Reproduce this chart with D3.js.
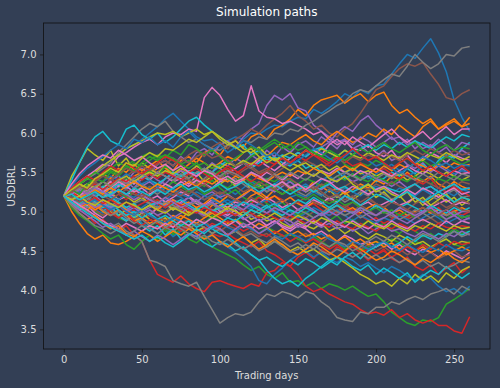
<!DOCTYPE html>
<html>
<head>
<meta charset="utf-8">
<script src="https://cdn.jsdelivr.net/npm/d3@7"></script>
<style>
  body { margin: 0; background: #333f55; }
  svg { display: block; font-family: "DejaVu Sans", sans-serif; }
</style>
</head>
<body>
<div id="chart"></div>
<script>
// Simulation paths, USDBRL, values every 5 trading days

const days = [0, 5, 10, 15, 20, 25, 30, 35, 40, 45, 50, 55, 60, 65, 70, 75, 80, 85, 90, 95,
  100, 105, 110, 115, 120, 125, 130, 135, 140, 145, 150, 155, 160, 165, 170, 175, 180, 185,
  190, 195, 200, 205, 210, 215, 220, 225, 230, 235, 240, 245, 250, 255, 260];

const xTicks = [0, 50, 100, 150, 200, 250];
const yTicks = [3.5, 4.0, 4.5, 5.0, 5.5, 6.0, 6.5, 7.0];

const sim00 = [5.20,5.28,5.35,5.42,5.50,5.58,5.65,5.72,5.80,5.85,5.92,
  6.00,6.08,6.18,6.25,6.15,6.05,5.95,5.90,5.92,5.85,
  5.90,5.95,5.92,6.00,5.98,6.05,6.10,6.08,6.15,6.20,
  6.18,6.30,6.25,6.32,6.40,6.50,6.45,6.55,6.50,6.60,
  6.62,6.75,6.88,7.00,6.95,7.08,7.20,7.02,6.78,6.42,6.20,6.02];
const sim01 = [5.20,5.15,5.22,5.18,5.30,5.25,5.35,5.40,5.32,5.45,5.50,
  5.48,5.55,5.60,5.52,5.65,5.70,5.62,5.75,5.80,5.72,
  5.85,5.90,5.82,5.95,6.00,5.92,6.05,6.10,6.18,6.30,
  6.22,6.35,6.42,6.45,6.48,6.38,6.45,6.50,6.40,6.48,
  6.52,6.35,6.25,6.30,6.20,6.12,6.18,6.05,6.10,6.15,6.08,6.20];
const sim02 = [5.20,5.12,5.05,5.10,5.00,4.95,5.02,4.92,4.88,4.95,4.85,
  4.80,4.88,4.75,4.70,4.78,4.65,4.60,4.68,4.55,4.50,
  4.45,4.40,4.32,4.25,4.30,4.20,4.15,4.22,4.10,4.12,
  4.05,4.10,4.02,4.08,4.05,4.00,4.05,3.98,3.92,3.95,
  3.85,3.72,3.65,3.58,3.55,3.62,3.60,3.65,3.82,3.88,3.95,4.02];
const sim03 = [5.20,5.10,5.02,4.95,4.85,4.90,4.80,4.75,4.82,4.70,4.62,
  4.38,4.20,4.15,4.10,4.18,4.08,4.02,3.98,4.10,4.12,
  4.08,4.05,4.02,4.08,4.05,4.22,4.25,4.35,4.30,4.42,
  4.48,4.40,4.52,4.45,4.55,4.50,4.42,4.48,4.38,4.45,
  4.52,4.40,4.35,4.42,4.30,4.25,4.32,4.20,4.28,4.35,4.22,4.30];
const sim04 = [5.20,5.25,5.18,5.30,5.35,5.28,5.40,5.45,5.38,5.50,5.55,
  5.48,5.60,5.65,5.58,5.70,5.62,5.75,5.80,5.72,5.85,
  5.90,5.82,5.95,6.05,6.12,6.35,6.48,6.42,6.50,6.32,
  6.28,6.10,6.02,5.95,5.88,5.92,5.80,5.85,5.75,5.70,
  5.78,5.65,5.70,5.60,5.55,5.62,5.50,5.58,5.52,5.45,5.55,5.48];
const sim05 = [5.20,5.28,5.22,5.32,5.38,5.30,5.42,5.35,5.45,5.52,5.48,
  5.55,5.50,5.60,5.68,5.62,5.72,5.78,5.70,5.82,5.88,
  5.80,5.92,5.98,6.05,6.00,6.10,6.18,6.25,6.35,6.22,
  6.15,6.05,6.10,6.00,5.95,6.05,6.12,6.25,6.40,6.55,
  6.60,6.72,6.82,6.88,6.85,6.90,6.75,6.62,6.45,6.42,6.50,6.55];
const sim06 = [5.20,5.30,5.38,5.45,5.52,5.60,5.58,5.70,5.75,5.82,5.88,
  5.92,5.85,5.95,6.00,5.98,6.05,6.02,6.45,6.58,6.48,
  6.30,6.15,6.22,6.60,6.28,6.20,6.18,6.12,6.15,6.10,
  6.05,5.98,6.02,5.92,5.85,5.90,5.80,5.78,5.85,5.75,
  5.70,5.78,5.65,5.72,5.60,5.68,5.75,5.70,5.62,5.72,5.68,5.65];
const sim07 = [5.20,5.28,5.35,5.42,5.48,5.55,5.62,5.75,5.85,5.95,6.05,
  6.12,6.08,6.15,6.02,5.95,5.88,5.92,5.85,5.80,5.78,
  5.85,5.82,5.90,5.88,5.95,5.92,6.00,5.98,6.05,6.02,
  6.10,6.15,6.22,6.28,6.35,6.40,6.50,6.55,6.52,6.60,
  6.68,6.75,6.72,6.85,7.00,6.90,6.82,6.88,7.00,6.98,7.08,7.10];
const sim08 = [5.20,5.45,5.62,5.80,5.72,5.65,5.78,5.58,5.68,5.52,5.62,
  5.55,5.48,5.58,5.45,5.52,5.42,5.50,5.38,5.45,5.35,
  5.42,5.32,5.40,5.28,5.35,5.25,5.32,5.38,5.28,5.35,
  5.25,5.30,5.20,5.28,5.18,5.25,5.15,5.22,5.28,5.18,
  5.25,5.15,5.20,5.10,5.18,5.08,5.15,5.22,5.12,5.18,5.08,5.15];
const sim09 = [5.20,5.40,5.62,5.82,5.95,6.02,5.90,5.85,6.05,6.10,5.98,
  5.92,6.00,5.88,5.95,6.05,6.15,6.20,6.10,6.02,5.95,
  5.88,5.80,5.85,5.72,5.78,5.65,5.70,5.62,5.58,5.65,
  5.55,5.60,5.50,5.45,5.52,5.42,5.48,5.40,5.45,5.38,
  5.42,5.50,5.45,5.55,5.48,5.60,5.52,5.65,5.72,5.68,5.80,5.88];
const sim10 = [5.20,5.15,5.08,5.12,5.02,4.98,5.05,4.95,4.90,4.98,4.85,
  4.80,4.72,4.78,4.68,4.75,4.82,4.70,4.65,4.72,4.60,
  4.55,4.48,4.40,4.30,4.12,4.08,4.20,4.28,4.38,4.45,
  4.50,4.42,4.48,4.40,4.35,4.42,4.38,4.30,4.35,4.28,
  4.22,4.30,4.25,4.18,4.12,4.20,4.15,4.05,3.98,4.02,3.95,4.05];
const sim11 = [5.20,5.00,4.85,4.72,4.65,4.70,4.60,4.58,4.62,4.68,4.75,
  4.82,4.78,4.88,4.95,4.90,5.00,5.05,4.98,5.08,5.12,
  5.05,5.15,5.10,5.20,5.25,5.18,5.28,5.22,5.30,5.35,
  5.28,5.38,5.32,5.25,5.30,5.22,5.28,5.35,5.30,5.40,
  5.35,5.45,5.40,5.50,5.42,5.38,5.45,5.35,5.30,5.38,5.32,5.28];
const sim12 = [5.20,5.05,4.95,4.88,4.80,4.72,4.65,4.70,4.58,4.52,4.62,
  4.70,4.65,4.78,4.72,4.85,4.80,4.90,4.85,4.95,4.88,
  4.82,4.90,4.85,4.78,4.72,4.80,4.75,4.68,4.72,4.65,
  4.60,4.68,4.62,4.55,4.60,4.52,4.58,4.50,4.55,4.62,
  4.58,4.65,4.60,4.55,4.62,4.58,4.52,4.60,4.65,4.58,4.55,4.62];
const sim13 = [5.20,5.12,5.18,5.08,5.15,5.05,5.00,5.08,4.98,5.02,4.92,
  4.95,4.88,4.92,4.85,4.78,4.82,4.75,4.80,4.72,4.68,
  4.72,4.65,4.60,4.55,4.62,4.50,4.45,4.38,4.30,4.20,
  4.05,3.98,4.02,3.95,3.90,3.85,3.82,3.75,3.70,3.72,
  3.68,3.75,3.65,3.70,3.62,3.58,3.62,3.55,3.55,3.48,3.45,3.66];
const sim14 = [5.20,5.12,5.18,5.25,5.20,5.30,5.22,5.35,5.28,5.40,5.32,
  5.38,5.30,5.42,5.48,5.40,5.52,5.45,5.55,5.50,5.62,
  5.58,5.68,5.62,5.72,5.65,5.78,5.70,5.82,5.75,5.85,
  5.90,5.82,5.95,5.88,6.00,6.08,6.02,6.15,6.22,6.10,
  6.02,5.92,5.95,5.85,5.90,5.80,5.85,5.75,5.82,5.70,5.78,5.72];
const sim15 = [5.20,5.15,5.08,5.12,5.05,5.10,5.02,5.08,5.00,4.95,5.02,
  4.98,5.05,5.00,5.08,5.02,4.95,5.00,4.92,4.98,5.05,
  5.00,5.08,5.02,5.10,5.05,4.98,5.02,4.95,4.90,4.98,
  4.92,5.00,4.95,5.02,4.98,5.05,5.00,5.08,5.02,4.95,
  5.00,4.92,4.98,4.90,4.95,4.88,4.92,4.85,4.90,4.95,4.88,4.92];
const sim16 = [5.20,5.10,5.02,5.08,4.98,4.92,5.00,4.95,4.88,4.95,5.02,
  4.95,5.05,5.10,5.02,5.12,5.18,5.10,5.05,5.12,5.00,
  4.95,5.02,4.92,4.85,4.90,4.82,4.88,4.80,4.75,4.82,
  4.78,4.70,4.75,4.68,4.62,4.70,4.65,4.58,4.62,4.55,
  4.60,4.52,4.58,4.50,4.45,4.52,4.48,4.42,4.50,4.45,4.40,4.48];
const sim17 = [5.20,5.12,5.05,5.00,4.92,4.88,4.80,4.85,4.75,4.70,4.62,
  4.38,4.35,4.30,4.12,4.08,4.05,4.10,3.92,3.75,3.58,
  3.65,3.70,3.68,3.72,3.85,3.95,3.92,3.98,3.95,3.90,
  3.98,3.95,3.85,3.78,3.65,3.62,3.60,3.72,3.70,3.78,
  3.78,3.85,3.82,3.88,3.92,3.88,3.95,3.98,4.02,3.95,4.05,4.00];
const sim18 = [5.20,5.15,5.22,5.10,5.05,5.12,5.00,4.95,5.02,4.92,4.98,
  4.90,4.85,4.92,4.80,4.88,4.82,4.75,4.80,4.72,4.78,
  4.70,4.75,4.68,4.60,4.65,4.55,4.62,4.58,4.50,4.55,
  4.48,4.52,4.45,4.38,4.42,4.35,4.28,4.20,4.15,4.08,
  4.12,4.05,4.15,4.08,4.20,4.12,4.18,4.10,4.22,4.15,4.25,4.30];
const sim19 = [5.20,5.10,5.18,5.05,5.12,5.00,5.08,4.95,4.88,4.95,4.82,
  4.75,4.82,4.70,4.78,4.65,4.72,4.68,4.60,4.55,4.62,
  4.58,4.50,4.55,4.45,4.38,4.42,4.35,4.30,4.38,4.32,
  4.40,4.35,4.28,4.35,4.42,4.38,4.30,4.25,4.32,4.20,
  4.28,4.22,4.15,4.22,4.10,4.18,4.25,4.20,4.30,4.22,4.15,4.22];
const sim20 = [5.20,5.25,5.18,5.10,5.15,5.08,5.02,5.10,5.05,4.98,5.05,
  5.12,5.08,5.15,5.22,5.18,5.10,5.15,5.05,5.12,5.20,
  5.28,5.22,5.30,5.38,5.32,5.25,5.35,5.42,5.38,5.30,
  5.35,5.28,5.40,5.45,5.38,5.48,5.55,5.50,5.42,5.48,
  5.55,5.60,5.52,5.45,5.50,5.58,5.52,5.62,5.55,5.48,5.52,5.50];
const sim21 = [5.20,5.28,5.35,5.30,5.40,5.48,5.42,5.55,5.50,5.60,5.52,
  5.58,5.65,5.55,5.48,5.52,5.60,5.68,5.62,5.55,5.62,
  5.70,5.65,5.75,5.82,5.78,5.70,5.80,5.88,5.85,5.92,
  5.98,5.90,5.85,5.95,6.02,5.95,5.88,5.92,6.00,5.95,
  6.05,5.98,6.10,6.02,5.95,6.08,6.15,6.05,6.12,6.18,6.08,6.12];
const sim22 = [5.20,5.15,5.22,5.28,5.20,5.32,5.38,5.30,5.42,5.35,5.45,
  5.52,5.45,5.58,5.50,5.42,5.48,5.38,5.32,5.40,5.30,
  5.22,5.28,5.18,5.12,5.20,5.10,5.05,5.12,5.02,4.95,
  5.00,4.92,4.98,4.88,4.95,4.85,4.90,4.82,4.88,4.80,
  4.85,4.78,4.72,4.80,4.75,4.68,4.72,4.65,4.70,4.78,4.72,4.75];
const sim23 = [5.20,5.12,5.05,5.10,5.18,5.08,5.15,5.22,5.15,5.25,5.18,
  5.10,5.15,5.05,5.12,5.02,4.98,5.05,5.10,5.02,4.95,
  5.00,5.08,5.02,5.10,5.18,5.12,5.20,5.15,5.08,5.12,
  5.05,5.10,5.02,4.95,5.00,5.08,5.02,4.95,4.88,4.92,
  4.85,4.90,4.98,4.92,5.00,5.05,4.98,5.05,4.95,5.02,4.95,5.00];
const sim24 = [5.20,5.30,5.25,5.35,5.28,5.20,5.25,5.32,5.38,5.30,5.42,
  5.48,5.40,5.35,5.45,5.52,5.48,5.58,5.52,5.62,5.55,
  5.48,5.55,5.62,5.58,5.68,5.72,5.65,5.58,5.62,5.70,
  5.78,5.72,5.82,5.88,5.80,5.92,5.85,5.95,5.90,5.82,
  5.88,5.95,5.85,5.92,5.80,5.88,5.82,5.92,5.85,5.78,5.88,5.85];
const sim25 = [5.20,5.12,5.05,5.12,5.02,4.95,5.02,4.92,4.98,4.90,4.95,
  5.02,4.95,4.88,4.92,4.85,4.90,4.82,4.88,4.80,4.75,
  4.82,4.78,4.70,4.75,4.68,4.72,4.65,4.70,4.62,4.68,
  4.72,4.65,4.60,4.68,4.62,4.55,4.60,4.52,4.58,4.50,
  4.55,4.48,4.52,4.45,4.50,4.42,4.48,4.40,4.45,4.50,4.42,4.45];
const sim26 = [5.20,5.25,5.32,5.28,5.22,5.30,5.38,5.32,5.40,5.35,5.45,
  5.40,5.50,5.45,5.38,5.42,5.35,5.45,5.52,5.48,5.42,
  5.50,5.55,5.62,5.55,5.65,5.58,5.52,5.60,5.68,5.75,
  5.70,5.78,5.72,5.85,5.92,5.85,5.95,5.88,5.82,5.90,
  5.98,6.05,5.95,5.88,5.95,6.02,5.92,6.00,6.08,5.98,6.05,6.05];
const sim27 = [5.20,5.15,5.08,5.15,5.22,5.28,5.20,5.15,5.22,5.30,5.35,
  5.28,5.22,5.30,5.38,5.45,5.40,5.35,5.42,5.50,5.45,
  5.38,5.42,5.35,5.28,5.32,5.25,5.30,5.38,5.32,5.25,
  5.20,5.28,5.22,5.15,5.20,5.12,5.18,5.25,5.20,5.28,
  5.22,5.15,5.20,5.25,5.18,5.12,5.20,5.15,5.22,5.28,5.18,5.20];
const sim28 = [5.20,5.25,5.30,5.22,5.28,5.18,5.25,5.15,5.20,5.12,5.18,
  5.10,5.05,5.12,5.02,5.08,4.98,5.05,4.95,5.00,5.08,
  5.02,4.95,5.00,4.90,4.95,4.88,4.92,4.85,4.80,4.88,
  4.82,4.78,4.85,4.75,4.80,4.72,4.78,4.70,4.65,4.72,
  4.68,4.62,4.70,4.65,4.58,4.62,4.55,4.60,4.65,4.58,4.62,4.60];
const sim29 = [5.20,5.15,5.22,5.18,5.25,5.32,5.28,5.35,5.30,5.38,5.45,
  5.40,5.35,5.42,5.50,5.45,5.52,5.48,5.55,5.50,5.58,
  5.65,5.58,5.62,5.55,5.62,5.70,5.65,5.72,5.68,5.75,
  5.70,5.78,5.82,5.75,5.70,5.78,5.72,5.80,5.85,5.78,
  5.85,5.80,5.88,5.82,5.90,5.85,5.80,5.88,5.95,5.90,5.98,5.95];
const sim30 = [5.20,5.22,5.28,5.35,5.30,5.38,5.45,5.40,5.48,5.42,5.35,
  5.40,5.32,5.25,5.30,5.22,5.28,5.20,5.15,5.22,5.18,
  5.10,5.15,5.08,5.02,5.10,5.05,4.98,5.05,5.00,4.92,
  4.98,5.05,5.00,4.95,5.02,4.95,4.88,4.95,4.90,4.85,
  4.92,4.88,4.95,4.90,4.85,4.92,4.98,4.92,4.85,4.90,4.95,4.90];
const sim31 = [5.20,5.15,5.08,5.02,5.08,5.00,4.95,5.02,4.95,4.88,4.92,
  4.85,4.90,4.82,4.88,4.95,4.90,4.85,4.92,4.98,4.92,
  4.85,4.90,4.82,4.78,4.85,4.80,4.72,4.78,4.70,4.75,
  4.68,4.72,4.65,4.70,4.62,4.68,4.60,4.65,4.58,4.62,
  4.55,4.60,4.52,4.58,4.50,4.55,4.48,4.52,4.45,4.50,4.55,4.50];
const sim32 = [5.20,5.28,5.35,5.42,5.38,5.45,5.52,5.48,5.58,5.52,5.62,
  5.70,5.65,5.72,5.68,5.60,5.65,5.58,5.62,5.55,5.60,
  5.52,5.58,5.62,5.70,5.75,5.82,5.88,5.80,5.85,5.78,
  5.82,5.75,5.70,5.65,5.72,5.60,5.55,5.62,5.58,5.65,
  5.60,5.55,5.62,5.68,5.60,5.65,5.58,5.62,5.70,5.65,5.60,5.65];
const sim33 = [5.20,5.12,5.18,5.10,5.02,5.08,4.98,4.92,4.98,4.88,4.82,
  4.90,4.85,4.78,4.82,4.75,4.80,4.72,4.78,4.85,4.80,
  4.88,4.82,4.75,4.80,4.72,4.68,4.75,4.70,4.62,4.68,
  4.60,4.65,4.58,4.52,4.58,4.50,4.55,4.48,4.52,4.45,
  4.50,4.42,4.48,4.55,4.50,4.58,4.52,4.60,4.55,4.62,4.58,4.60];
const sim34 = [5.20,5.12,5.18,5.25,5.20,5.12,5.05,5.10,5.02,5.08,5.00,
  5.05,5.12,5.08,5.15,5.10,5.18,5.12,5.20,5.25,5.18,
  5.22,5.15,5.20,5.28,5.22,5.30,5.25,5.32,5.38,5.30,
  5.25,5.32,5.28,5.35,5.40,5.45,5.38,5.42,5.48,5.42,
  5.38,5.32,5.38,5.30,5.35,5.28,5.32,5.25,5.30,5.35,5.28,5.30];
const sim35 = [5.20,5.25,5.18,5.12,5.18,5.25,5.20,5.28,5.22,5.30,5.25,
  5.32,5.28,5.35,5.30,5.38,5.42,5.35,5.40,5.48,5.42,
  5.50,5.45,5.52,5.58,5.50,5.55,5.48,5.55,5.62,5.58,
  5.65,5.60,5.55,5.62,5.68,5.62,5.70,5.65,5.72,5.68,
  5.75,5.70,5.65,5.72,5.78,5.72,5.80,5.75,5.70,5.78,5.72,5.75];
const sim36 = [5.20,5.28,5.22,5.30,5.25,5.18,5.22,5.15,5.20,5.28,5.22,
  5.15,5.20,5.12,5.18,5.25,5.20,5.12,5.08,5.15,5.10,
  5.05,5.12,5.08,5.15,5.10,5.18,5.12,5.05,5.10,5.02,
  5.08,5.15,5.10,5.18,5.12,5.20,5.15,5.08,5.12,5.05,
  5.10,5.15,5.08,5.12,5.18,5.12,5.05,5.10,5.15,5.08,5.12,5.10];
const sim37 = [5.20,5.15,5.10,5.05,5.12,5.02,4.95,5.00,4.92,4.85,4.90,
  4.82,4.88,4.80,4.75,4.82,4.78,4.85,4.80,4.72,4.78,
  4.70,4.75,4.68,4.72,4.65,4.60,4.68,4.62,4.55,4.60,
  4.52,4.58,4.50,4.45,4.52,4.48,4.42,4.48,4.40,4.45,
  4.38,4.42,4.35,4.40,4.32,4.38,4.30,4.35,4.28,4.32,4.38,4.35];
const sim38 = [5.20,5.28,5.35,5.42,5.50,5.58,5.65,5.72,5.80,5.85,5.90,
  5.95,6.00,5.98,6.02,5.95,6.00,6.05,5.98,6.02,5.92,
  5.85,5.90,5.80,5.75,5.82,5.72,5.65,5.70,5.62,5.58,
  5.62,5.55,5.60,5.52,5.58,5.50,5.55,5.48,5.52,5.45,
  5.50,5.42,5.48,5.40,5.45,5.52,5.48,5.42,5.50,5.45,5.40,5.45];
const sim39 = [5.20,5.15,5.10,5.18,5.12,5.05,5.10,5.02,4.95,5.00,4.92,
  4.98,4.90,4.95,4.88,4.82,4.88,4.80,4.85,4.78,4.72,
  4.68,4.60,4.52,4.45,4.38,4.25,4.15,4.08,4.12,4.05,
  4.15,4.22,4.30,4.38,4.32,4.42,4.48,4.40,4.50,4.55,
  4.62,4.55,4.60,4.68,4.62,4.70,4.65,4.72,4.68,4.75,4.70,4.75];
const sim40 = [5.20,5.18,5.25,5.30,5.22,5.28,5.20,5.15,5.22,5.18,5.25,
  5.30,5.25,5.32,5.28,5.22,5.18,5.25,5.20,5.15,5.10,
  5.15,5.08,5.12,5.05,5.10,5.15,5.08,5.12,5.18,5.22,
  5.18,5.25,5.20,5.28,5.22,5.30,5.25,5.20,5.28,5.32,
  5.28,5.22,5.30,5.25,5.20,5.28,5.22,5.30,5.25,5.20,5.28,5.25];
const sim41 = [5.20,5.12,5.05,5.10,5.02,5.08,5.15,5.10,5.02,4.95,5.02,
  5.08,5.02,5.10,5.15,5.08,5.12,5.05,5.10,5.18,5.12,
  5.20,5.15,5.22,5.28,5.22,5.15,5.20,5.12,5.18,5.10,
  5.05,5.12,5.08,5.02,5.08,5.00,5.05,4.98,5.05,5.10,
  5.05,4.98,5.02,4.95,5.00,5.05,4.98,5.02,4.95,5.00,5.05,5.00];
const sim42 = [5.20,5.22,5.15,5.20,5.28,5.22,5.30,5.25,5.18,5.25,5.32,
  5.28,5.35,5.30,5.38,5.32,5.25,5.30,5.22,5.28,5.35,
  5.30,5.38,5.45,5.40,5.35,5.42,5.38,5.45,5.40,5.35,
  5.42,5.38,5.32,5.38,5.45,5.40,5.48,5.42,5.38,5.45,
  5.40,5.35,5.42,5.38,5.45,5.40,5.35,5.42,5.38,5.45,5.40,5.40];
const sim43 = [5.20,5.28,5.22,5.30,5.35,5.28,5.35,5.42,5.38,5.45,5.40,
  5.48,5.42,5.50,5.45,5.40,5.48,5.42,5.35,5.42,5.50,
  5.55,5.48,5.55,5.62,5.58,5.65,5.60,5.68,5.62,5.70,
  5.65,5.72,5.68,5.62,5.70,5.65,5.58,5.62,5.55,5.50,
  5.55,5.48,5.42,5.48,5.40,5.35,5.42,5.30,5.25,5.32,5.25,5.20];
const sim44 = [5.20,5.15,5.08,5.12,5.05,5.10,5.02,5.08,5.00,5.05,4.98,
  5.02,4.95,5.00,4.92,4.98,5.05,5.00,4.95,5.02,4.98,
  4.92,4.98,4.90,4.95,4.88,4.92,4.85,4.90,4.82,4.88,
  4.92,4.85,4.80,4.85,4.78,4.82,4.75,4.80,4.72,4.78,
  4.82,4.75,4.78,4.72,4.68,4.75,4.70,4.65,4.72,4.68,4.75,4.70];
const sim45 = [5.20,5.22,5.28,5.22,5.18,5.25,5.30,5.25,5.20,5.15,5.22,
  5.18,5.12,5.18,5.25,5.20,5.28,5.22,5.15,5.20,5.25,
  5.20,5.15,5.10,5.18,5.12,5.05,5.10,5.15,5.08,5.12,
  5.18,5.12,5.08,5.15,5.10,5.05,5.12,5.08,5.15,5.10,
  5.05,5.12,5.08,5.02,5.10,5.15,5.08,5.12,5.05,5.10,5.15,5.10];
const sim46 = [5.20,5.25,5.20,5.28,5.32,5.25,5.30,5.38,5.32,5.25,5.30,
  5.22,5.28,5.35,5.30,5.38,5.32,5.40,5.35,5.30,5.38,
  5.42,5.35,5.40,5.48,5.42,5.50,5.45,5.40,5.48,5.42,
  5.50,5.45,5.52,5.48,5.55,5.50,5.45,5.52,5.48,5.55,
  5.50,5.45,5.52,5.58,5.52,5.48,5.55,5.50,5.45,5.52,5.48,5.50];
const sim47 = [5.20,5.18,5.12,5.18,5.10,5.15,5.08,5.12,5.05,5.10,5.15,
  5.10,5.05,5.12,5.08,5.02,5.08,5.12,5.05,5.10,5.02,
  4.98,5.05,5.00,4.95,5.02,4.98,5.05,5.00,4.95,5.02,
  4.98,4.92,4.98,5.05,5.00,4.95,5.00,4.92,4.98,4.95,
  5.00,4.95,4.90,4.95,5.02,4.98,4.92,4.98,4.95,5.00,4.92,4.95];
const sim48 = [5.20,5.25,5.30,5.35,5.30,5.38,5.32,5.40,5.45,5.38,5.45,
  5.50,5.45,5.52,5.48,5.55,5.50,5.58,5.52,5.60,5.55,
  5.62,5.58,5.65,5.60,5.68,5.72,5.65,5.70,5.75,5.70,
  5.78,5.72,5.80,5.75,5.70,5.78,5.72,5.68,5.75,5.70,
  5.65,5.72,5.68,5.75,5.70,5.65,5.72,5.68,5.75,5.70,5.65,5.70];
const sim49 = [5.20,5.15,5.20,5.12,5.18,5.25,5.18,5.12,5.05,5.10,5.02,
  5.08,5.12,5.05,5.10,5.15,5.08,5.02,5.08,5.00,5.05,
  5.10,5.05,5.12,5.08,5.02,5.08,5.00,4.95,5.02,4.98,
  5.05,5.00,4.95,5.02,5.08,5.02,4.98,5.05,5.00,5.08,
  5.02,4.98,5.05,5.10,5.05,5.00,5.08,5.02,4.98,5.05,5.00,5.05];
const sim50 = [5.20,5.12,5.18,5.10,5.15,5.08,5.02,5.08,5.00,4.95,5.02,
  4.95,4.90,4.85,4.92,4.88,4.82,4.90,4.85,4.78,4.85,
  4.80,4.75,4.82,4.78,4.72,4.78,4.70,4.65,4.72,4.68,
  4.62,4.68,4.72,4.65,4.60,4.55,4.62,4.58,4.52,4.58,
  4.62,4.55,4.50,4.58,4.52,4.48,4.55,4.50,4.58,4.52,4.50,4.55];
const sim51 = [5.20,5.25,5.18,5.22,5.28,5.22,5.30,5.25,5.32,5.38,5.32,
  5.28,5.35,5.30,5.25,5.32,5.38,5.32,5.40,5.35,5.42,
  5.38,5.45,5.40,5.48,5.42,5.38,5.45,5.50,5.45,5.52,
  5.48,5.55,5.50,5.45,5.52,5.58,5.52,5.60,5.55,5.50,
  5.58,5.52,5.60,5.55,5.62,5.58,5.52,5.60,5.55,5.62,5.58,5.60];
const sim52 = [5.20,5.28,5.35,5.42,5.50,5.45,5.55,5.62,5.58,5.65,5.70,
  5.75,5.68,5.72,5.65,5.60,5.55,5.62,5.50,5.45,5.52,
  5.42,5.38,5.45,5.35,5.30,5.35,5.28,5.22,5.28,5.20,
  5.15,5.22,5.15,5.10,5.15,5.08,5.12,5.05,5.00,5.05,
  4.98,5.02,4.95,5.00,4.92,4.98,5.02,4.95,4.90,4.98,4.92,4.95];
const sim53 = [5.20,5.25,5.18,5.12,5.18,5.10,5.15,5.08,5.12,5.05,5.10,
  5.15,5.10,5.05,5.12,5.08,5.02,4.98,5.05,5.00,4.95,
  5.00,4.95,5.02,4.98,4.92,4.98,4.92,4.88,4.95,4.90,
  4.85,4.90,4.85,4.80,4.88,4.82,4.78,4.85,4.80,4.75,
  4.82,4.78,4.85,4.80,4.75,4.82,4.78,4.85,4.80,4.78,4.82,4.80];
const sim54 = [5.20,5.22,5.28,5.22,5.30,5.25,5.20,5.28,5.22,5.15,5.20,
  5.15,5.10,5.18,5.12,5.05,5.10,5.15,5.08,5.12,5.05,
  5.00,5.08,5.02,5.10,5.05,4.98,5.05,5.00,4.95,5.02,
  5.08,5.02,4.95,5.00,4.95,5.02,4.98,5.05,5.00,4.95,
  5.02,4.98,5.05,5.00,4.95,5.00,5.05,4.98,5.02,4.95,5.00,5.00];
const sim55 = [5.20,5.18,5.12,5.18,5.25,5.20,5.15,5.22,5.28,5.22,5.18,
  5.25,5.30,5.25,5.20,5.28,5.22,5.30,5.35,5.28,5.22,
  5.28,5.32,5.25,5.30,5.38,5.32,5.28,5.35,5.30,5.25,
  5.32,5.28,5.35,5.30,5.25,5.32,5.38,5.32,5.28,5.35,
  5.30,5.38,5.32,5.28,5.35,5.40,5.35,5.30,5.38,5.32,5.38,5.35];
const sim56 = [5.20,5.15,5.08,5.02,4.95,4.88,4.82,4.78,4.85,4.80,4.75,
  4.82,4.78,4.85,4.80,4.88,4.82,4.90,4.85,4.92,4.88,
  4.82,4.88,4.80,4.85,4.78,4.82,4.88,4.82,4.78,4.85,
  4.80,4.88,4.82,4.90,4.85,4.80,4.88,4.82,4.78,4.85,
  4.80,4.88,4.82,4.78,4.85,4.90,4.85,4.80,4.88,4.82,4.88,4.85];
const sim57 = [5.20,5.25,5.30,5.25,5.32,5.38,5.32,5.40,5.35,5.42,5.48,
  5.42,5.50,5.45,5.40,5.48,5.42,5.50,5.55,5.50,5.45,
  5.52,5.48,5.42,5.50,5.45,5.40,5.48,5.42,5.50,5.45,
  5.40,5.48,5.42,5.38,5.45,5.50,5.45,5.40,5.48,5.42,
  5.48,5.42,5.50,5.45,5.40,5.48,5.42,5.50,5.45,5.40,5.48,5.45];
const sim58 = [5.20,5.15,5.20,5.12,5.08,5.15,5.10,5.05,5.12,5.08,5.02,
  5.08,5.02,4.98,5.05,5.00,4.95,5.02,4.98,4.92,4.98,
  5.05,5.00,4.95,5.02,4.98,4.92,4.98,4.92,4.88,4.95,
  4.90,4.85,4.92,4.88,4.82,4.88,4.85,4.80,4.88,4.82,
  4.78,4.85,4.80,4.75,4.82,4.78,4.85,4.80,4.75,4.82,4.78,4.80];
const sim59 = [5.20,5.22,5.15,5.20,5.25,5.18,5.22,5.28,5.22,5.30,5.25,
  5.20,5.28,5.22,5.30,5.35,5.28,5.32,5.25,5.30,5.35,
  5.28,5.32,5.38,5.32,5.25,5.30,5.35,5.28,5.22,5.28,
  5.32,5.25,5.30,5.35,5.28,5.32,5.25,5.30,5.35,5.28,
  5.32,5.28,5.25,5.30,5.35,5.28,5.32,5.25,5.30,5.35,5.28,5.30];
const sim60 = [5.20,5.32,5.45,5.55,5.62,5.70,5.78,5.85,5.80,5.92,5.88,
  5.95,5.85,5.90,5.82,5.95,6.02,5.92,5.85,5.78,5.85,
  5.75,5.82,5.90,5.85,5.78,5.70,5.75,5.68,5.60,5.65,
  5.72,5.80,5.75,5.68,5.62,5.70,5.78,5.72,5.65,5.58,
  5.62,5.55,5.48,5.55,5.62,5.70,5.65,5.58,5.62,5.55,5.60,5.58];
const sim61 = [5.20,5.08,4.98,4.90,4.95,4.85,4.78,4.82,4.72,4.68,4.75,
  4.70,4.62,4.68,4.75,4.70,4.78,4.72,4.65,4.70,4.62,
  4.55,4.62,4.68,4.60,4.52,4.58,4.65,4.58,4.50,4.45,
  4.52,4.60,4.55,4.48,4.42,4.50,4.58,4.52,4.45,4.38,
  4.42,4.50,4.45,4.38,4.32,4.40,4.35,4.42,4.48,4.40,4.35,4.42];
const sim62 = [5.20,5.28,5.22,5.35,5.42,5.38,5.50,5.45,5.55,5.62,5.58,
  5.65,5.72,5.68,5.78,5.72,5.85,5.80,5.72,5.78,5.70,
  5.62,5.68,5.75,5.82,5.78,5.85,5.92,5.85,5.78,5.88,
  5.82,5.75,5.70,5.78,5.72,5.65,5.72,5.80,5.75,5.82,
  5.88,5.80,5.75,5.82,5.88,5.78,5.72,5.80,5.85,5.78,5.82,5.80];
const sim63 = [5.20,5.30,5.38,5.45,5.40,5.50,5.58,5.52,5.62,5.55,5.48,
  5.55,5.62,5.70,5.65,5.58,5.50,5.55,5.48,5.42,5.50,
  5.58,5.52,5.45,5.38,5.45,5.52,5.60,5.68,5.62,5.70,
  5.78,5.72,5.65,5.58,5.65,5.72,5.80,5.72,5.65,5.70,
  5.62,5.55,5.62,5.68,5.60,5.52,5.58,5.50,5.45,5.52,5.58,5.50];
const sim64 = [5.20,5.10,5.02,4.95,4.88,4.80,4.85,4.78,4.70,4.75,4.68,
  4.62,4.70,4.65,4.58,4.65,4.72,4.68,4.75,4.82,4.78,
  4.70,4.78,4.85,4.80,4.72,4.78,4.85,4.92,4.88,4.80,
  4.85,4.92,4.98,4.90,4.82,4.88,4.95,5.02,4.95,4.88,
  4.92,4.98,4.90,4.85,4.92,4.98,5.05,4.98,4.90,4.95,4.88,4.92];
const sim65 = [5.20,5.25,5.32,5.28,5.38,5.45,5.40,5.48,5.55,5.50,5.58,
  5.52,5.60,5.65,5.58,5.68,5.62,5.70,5.75,5.68,5.72,
  5.65,5.58,5.62,5.55,5.48,5.52,5.45,5.38,5.42,5.35,
  5.28,5.32,5.25,5.18,5.22,5.15,5.20,5.12,5.18,5.10,
  5.05,5.12,5.08,5.02,4.98,5.05,5.00,4.95,5.02,5.08,5.02,5.00];
const sim66 = [5.20,5.35,5.48,5.58,5.65,5.72,5.68,5.78,5.72,5.65,5.70,
  5.62,5.55,5.60,5.52,5.58,5.50,5.45,5.52,5.48,5.40,
  5.45,5.38,5.42,5.50,5.45,5.38,5.32,5.38,5.30,5.35,
  5.28,5.35,5.42,5.38,5.30,5.25,5.32,5.28,5.22,5.28,
  5.32,5.25,5.20,5.28,5.22,5.30,5.25,5.18,5.25,5.30,5.22,5.25];
const sim67 = [5.20,5.08,4.98,4.90,4.82,4.78,4.72,4.78,4.70,4.75,4.82,
  4.78,4.72,4.80,4.85,4.78,4.72,4.65,4.70,4.62,4.58,
  4.65,4.58,4.52,4.58,4.50,4.55,4.62,4.55,4.48,4.52,
  4.58,4.52,4.60,4.55,4.62,4.58,4.50,4.55,4.62,4.68,
  4.62,4.70,4.65,4.58,4.65,4.72,4.68,4.62,4.68,4.75,4.68,4.72];
const sim68 = [5.20,5.28,5.35,5.30,5.42,5.48,5.55,5.50,5.62,5.58,5.68,
  5.75,5.70,5.80,5.78,5.85,5.92,5.88,5.95,6.02,5.95,
  5.88,5.82,5.75,5.80,5.70,5.62,5.68,5.58,5.52,5.58,
  5.50,5.45,5.52,5.42,5.38,5.45,5.35,5.28,5.35,5.25,
  5.30,5.22,5.18,5.25,5.12,5.18,5.08,5.15,5.22,5.12,5.18,5.15];
const sim69 = [5.20,5.12,5.05,4.98,4.92,4.85,4.80,4.75,4.70,4.65,4.70,
  4.62,4.68,4.60,4.55,4.62,4.70,4.78,4.72,4.80,4.85,
  4.92,4.88,4.95,5.02,4.98,5.05,5.10,5.02,5.08,5.15,
  5.10,5.18,5.12,5.05,5.12,5.20,5.15,5.08,5.15,5.22,
  5.18,5.12,5.20,5.25,5.18,5.12,5.18,5.25,5.20,5.12,5.18,5.15];

const paths = [sim00, sim01, sim02, sim03, sim04, sim05, sim06, sim07, sim08, sim09,
  sim10, sim11, sim12, sim13, sim14, sim15, sim16, sim17, sim18, sim19,
  sim20, sim21, sim22, sim23, sim24, sim25, sim26, sim27, sim28, sim29,
  sim30, sim31, sim32, sim33, sim34, sim35, sim36, sim37, sim38, sim39,
  sim40, sim41, sim42, sim43, sim44, sim45, sim46, sim47, sim48, sim49,
  sim50, sim51, sim52, sim53, sim54, sim55, sim56, sim57, sim58, sim59,
  sim60, sim61, sim62, sim63, sim64, sim65, sim66, sim67, sim68, sim69];

const width = 500;
const height = 388;
const margin = { left: 43.5, right: 10, top: 23, bottom: 39 };
const bg = "#333f55";
const textColor = "#dddddd";

const svg = d3.select("#chart")
  .append("svg")
  .attr("width", width)
  .attr("height", height);

svg.append("rect")
  .attr("width", width)
  .attr("height", height)
  .attr("fill", bg);

const x = d3.scaleLinear()
  .domain([-13, 273])
  .range([margin.left, width - margin.right]);

const y = d3.scaleLinear()
  .domain([3.25, 7.40])
  .range([height - margin.bottom, margin.top]);

// lines, matplotlib tab10 cycle
const color = d3.scaleOrdinal(d3.schemeCategory10);

const line = d3.line()
  .x((d, i) => x(days[i]))
  .y(d => y(d));

svg.append("defs").append("clipPath")
  .attr("id", "plot-clip")
  .append("rect")
  .attr("x", margin.left)
  .attr("y", margin.top)
  .attr("width", width - margin.left - margin.right)
  .attr("height", height - margin.top - margin.bottom);

svg.append("g")
  .attr("clip-path", "url(#plot-clip)")
  .selectAll("path")
  .data(paths)
  .enter()
  .append("path")
  .attr("d", line)
  .attr("fill", "none")
  .attr("stroke", (d, i) => color(i % 10))
  .attr("stroke-width", 1.5)
  .attr("stroke-linejoin", "round");

// axes
const xAxis = svg.append("g")
  .attr("transform", `translate(0,${height - margin.bottom})`)
  .call(d3.axisBottom(x).tickValues(xTicks).tickSize(3.5).tickPadding(3.5));

const yAxis = svg.append("g")
  .attr("transform", `translate(${margin.left},0)`)
  .call(d3.axisLeft(y).tickValues(yTicks).tickFormat(d3.format(".1f")).tickSize(3.5).tickPadding(3.5));

[xAxis, yAxis].forEach(g => {
  g.select(".domain").remove();
  g.selectAll(".tick line").attr("stroke", "#1a1a1a").attr("stroke-width", 0.8);
  g.selectAll(".tick text")
    .attr("fill", textColor)
    .attr("font-size", "10px")
    .attr("font-family", "DejaVu Sans, sans-serif");
});

// frame
svg.append("rect")
  .attr("x", margin.left)
  .attr("y", margin.top)
  .attr("width", width - margin.left - margin.right)
  .attr("height", height - margin.top - margin.bottom)
  .attr("fill", "none")
  .attr("stroke", "#111111")
  .attr("stroke-width", 0.8);

// texts
svg.append("text")
  .attr("x", (margin.left + width - margin.right) / 2)
  .attr("y", 16)
  .attr("text-anchor", "middle")
  .attr("fill", "#ffffff")
  .attr("font-size", "12px")
  .text("Simulation paths");

svg.append("text")
  .attr("x", (margin.left + width - margin.right) / 2)
  .attr("y", 379)
  .attr("text-anchor", "middle")
  .attr("fill", textColor)
  .attr("font-size", "10px")
  .text("Trading days");

svg.append("text")
  .attr("transform", `translate(15,${(margin.top + height - margin.bottom) / 2}) rotate(-90)`)
  .attr("text-anchor", "middle")
  .attr("fill", textColor)
  .attr("font-size", "10px")
  .text("USDBRL");
</script>
</body>
</html>
